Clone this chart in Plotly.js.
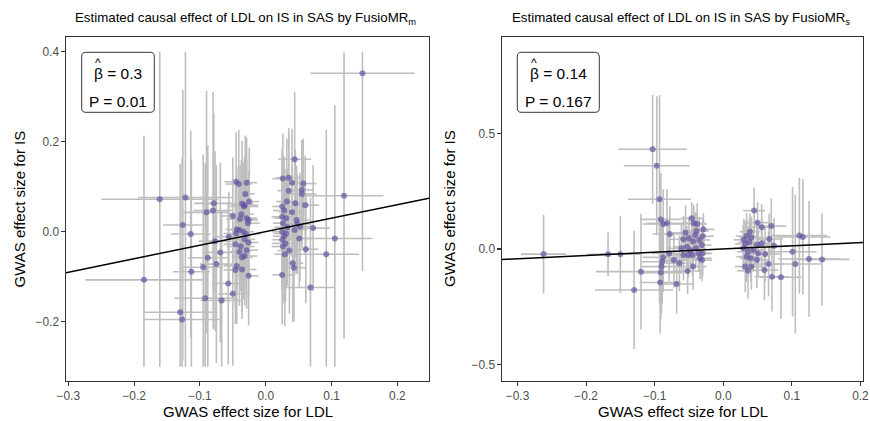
<!DOCTYPE html>
<html>
<head>
<meta charset="utf-8">
<script src="https://cdn.plot.ly/plotly-3.0.1.min.js"></script>
<style>html,body{margin:0;padding:0;background:#fff;}#chart{width:870px;height:421px;}</style>
</head>
<body>
<div id="chart"></div>
<script>
// ---------------- DATA ----------------
const panelTitles = ["Estimated causal effect of LDL on IS in SAS by FusioMR<sub>m</sub>",
                     "Estimated causal effect of LDL on IS in SAS by FusioMR<sub>s</sub>"];
const xTitle = "GWAS effect size for LDL";
const yTitle = "GWAS effect size for IS";
const betaValues = [0.3, 0.14];
const betaLabels = ["0.3", "0.14"];
const pLabels = ["0.01", "0.167"];

const leftX = [
0.147, -0.161, -0.122, 0.119, -0.185, -0.130, -0.127, -0.126, -0.114, -0.113,
-0.090, -0.080, -0.079, -0.077, -0.069, -0.088, -0.075, -0.095, -0.092, -0.067,
-0.057, -0.050, 0.092, 0.105, 0.068, 0.044,
-0.045, -0.041, -0.029, -0.031, -0.025, -0.032, -0.036, -0.033, -0.037, -0.029,
-0.026, -0.027, -0.039, -0.044, -0.040, -0.045, -0.056, -0.032, -0.030, -0.046,
-0.026, -0.038, -0.029, -0.032, -0.036, -0.044, -0.046, -0.036, -0.026, -0.040,
-0.050, -0.034,
0.026, 0.035, 0.040, 0.057, 0.035, 0.055, 0.055, 0.032, 0.045, 0.060,
0.025, 0.028, 0.040, 0.025, 0.031, 0.047, 0.026, 0.048, 0.052, 0.044,
0.072, 0.025, 0.031, 0.025, 0.030, 0.026, 0.036, 0.051, 0.061, 0.041,
0.043, 0.025, 0.028, 0.033, 0.029
];
const leftY = [
0.352, 0.072, 0.076, 0.080, -0.107, -0.179, -0.195, 0.015, -0.005, -0.089,
0.043, 0.047, 0.063, -0.021, -0.046, -0.058, -0.072, -0.079, -0.148, -0.153,
-0.115, -0.138, -0.050, -0.015, -0.124, 0.161,
0.111, 0.106, 0.109, 0.084, 0.067, 0.059, 0.062, 0.056, 0.039, 0.030,
0.026, 0.019, 0.028, 0.005, 0.004, -0.004, -0.011, -0.017, -0.005, -0.028,
-0.024, -0.033, -0.041, -0.054, -0.057, -0.076, -0.085, -0.084, -0.098, -0.045,
0.035, 0.000,
0.118, 0.120, 0.109, 0.107, 0.091, 0.093, 0.084, 0.067, 0.063, 0.059,
0.056, 0.047, 0.043, 0.033, 0.030, 0.026, 0.019, 0.017, 0.011, 0.004,
0.008, 0.000, -0.004, -0.018, -0.026, -0.033, -0.042, -0.015, -0.039, -0.070,
-0.080, -0.096, -0.010, 0.010, -0.050
];
const leftXErr = [
0.079, 0.089, 0.072, 0.060, 0.089, 0.056, 0.057, 0.030, 0.030, 0.028,
0.035, 0.030, 0.030, 0.025, 0.025, 0.030, 0.025, 0.030, 0.047, 0.032,
0.025, 0.022, 0.050, 0.057, 0.037, 0.025,
0.018, 0.020, 0.016, 0.014, 0.015, 0.020, 0.017, 0.022, 0.019, 0.016,
0.014, 0.018, 0.021, 0.017, 0.015, 0.019, 0.020, 0.016, 0.022, 0.018,
0.015, 0.021, 0.017, 0.019, 0.016, 0.020, 0.018, 0.022, 0.015, 0.017,
0.020, 0.016,
0.016, 0.019, 0.015, 0.020, 0.017, 0.018, 0.022, 0.016, 0.019, 0.021,
0.015, 0.017, 0.020, 0.016, 0.018, 0.019, 0.015, 0.021, 0.017, 0.018,
0.025, 0.016, 0.019, 0.015, 0.020, 0.017, 0.018, 0.022, 0.019, 0.016,
0.018, 0.015, 0.017, 0.020, 0.016
];
const leftYErr = [
0.44, 0.42, 0.40, 0.318, 0.32, 0.33, 0.36, 0.30, 0.23, 0.25,
0.27, 0.264, 0.20, 0.20, 0.20, 0.25, 0.22, 0.25, 0.30, 0.20,
0.18, 0.16, 0.276, 0.296, 0.20, 0.15,
0.11, 0.12, 0.10, 0.13, 0.12, 0.11, 0.14, 0.10, 0.12, 0.13,
0.11, 0.10, 0.12, 0.14, 0.11, 0.13, 0.10, 0.12, 0.11, 0.14,
0.12, 0.10, 0.13, 0.11, 0.12, 0.13, 0.12, 0.11, 0.11, 0.12,
0.13, 0.15,
0.10, 0.11, 0.12, 0.10, 0.13, 0.11, 0.12, 0.14, 0.12, 0.11,
0.13, 0.12, 0.10, 0.14, 0.11, 0.12, 0.13, 0.11, 0.12, 0.10,
0.14, 0.13, 0.12, 0.11, 0.13, 0.12, 0.14, 0.11, 0.12, 0.13,
0.12, 0.11, 0.15, 0.13, 0.16
];

const rightX = [
-0.262, -0.168, -0.150, -0.120, -0.130, -0.103, -0.097, -0.093, -0.091, -0.0875,
-0.082, -0.078, -0.091, -0.092, -0.090, -0.089, -0.0875, -0.068, -0.079, -0.072,
-0.064, -0.052, -0.044,
-0.046, -0.043, -0.038, -0.029, -0.039, -0.058, -0.050, -0.044, -0.035, -0.031,
-0.053, -0.061, -0.040, -0.051, -0.045, -0.036, -0.030, -0.031, -0.058, -0.048,
-0.034, -0.041, -0.055, -0.030,
0.045, 0.050, 0.056, 0.070, 0.039, 0.034, 0.041, 0.067, 0.032, 0.049,
0.056, 0.074, 0.029, 0.036, 0.044, 0.051, 0.061, 0.034, 0.040, 0.049,
0.032, 0.041, 0.036, 0.060, 0.066, 0.071, 0.084, 0.101, 0.105, 0.111,
0.116, 0.125, 0.144, 0.038, 0.030
];
const rightY = [
-0.022, -0.023, -0.023, -0.098, -0.177, 0.431, 0.360, 0.215, 0.128, 0.108,
0.111, 0.065, -0.102, -0.145, -0.076, -0.055, -0.036, -0.151, -0.019, -0.048,
-0.062, -0.095, -0.076,
0.133, 0.111, 0.108, 0.085, 0.078, 0.042, 0.046, 0.032, 0.039, 0.017,
0.010, 0.003, 0.003, -0.026, -0.026, -0.019, -0.019, -0.048, -0.026, -0.005,
-0.040, 0.060, 0.070, 0.055,
0.166, 0.114, 0.094, 0.099, 0.075, 0.056, 0.050, 0.043, 0.022, 0.017,
0.025, 0.014, 0.003, -0.012, -0.004, -0.019, -0.022, -0.033, -0.040, -0.048,
-0.076, -0.076, -0.094, -0.091, -0.065, -0.120, -0.122, -0.012, -0.065, 0.058,
0.052, -0.043, -0.045, 0.030, 0.040
];
const rightXErr = [
0.033, 0.030, 0.030, 0.066, 0.057, 0.050, 0.048, 0.046, 0.030, 0.030,
0.030, 0.025, 0.030, 0.030, 0.030, 0.030, 0.030, 0.025, 0.025, 0.020,
0.020, 0.020, 0.020,
0.015, 0.017, 0.014, 0.016, 0.018, 0.020, 0.015, 0.017, 0.016, 0.014,
0.019, 0.021, 0.015, 0.017, 0.016, 0.018, 0.014, 0.015, 0.020, 0.016,
0.017, 0.015, 0.019, 0.016,
0.016, 0.018, 0.017, 0.022, 0.015, 0.016, 0.018, 0.020, 0.015, 0.017,
0.018, 0.024, 0.014, 0.016, 0.017, 0.018, 0.021, 0.015, 0.016, 0.018,
0.015, 0.017, 0.016, 0.020, 0.022, 0.025, 0.030, 0.035, 0.038, 0.040,
0.040, 0.045, 0.040, 0.016, 0.015
];
const rightYErr = [
0.17, 0.094, 0.167, 0.25, 0.255, 0.235, 0.30, 0.45, 0.20, 0.15,
0.15, 0.12, 0.20, 0.22, 0.20, 0.18, 0.15, 0.13, 0.12, 0.12,
0.12, 0.10, 0.10,
0.07, 0.08, 0.09, 0.07, 0.08, 0.10, 0.09, 0.08, 0.10, 0.07,
0.09, 0.11, 0.08, 0.10, 0.09, 0.08, 0.10, 0.09, 0.11, 0.08,
0.09, 0.10, 0.12, 0.08,
0.10, 0.09, 0.10, 0.12, 0.08, 0.10, 0.09, 0.11, 0.10, 0.09,
0.11, 0.12, 0.10, 0.11, 0.09, 0.10, 0.12, 0.11, 0.10, 0.12,
0.11, 0.10, 0.12, 0.13, 0.14, 0.15, 0.18, 0.28, 0.30, 0.25,
0.25, 0.25, 0.20, 0.10, 0.09
];

// ---------------- LAYOUT GEOMETRY ----------------
const W = 870, H = 421;
const M = {l: 66, r: 7, t: 37, b: 40};
const PW = W - M.l - M.r, PH = H - M.t - M.b;
const fx = px => (px - M.l) / PW;
const fy = py => (H - M.b - py) / PH;

const FONT = "Liberation Sans, Arial, Helvetica, sans-serif";
const panels = [
  {x: leftX, y: leftY, ex: leftXErr, ey: leftYErr, xr: [-0.3035, 0.2481], yr: [-0.3318, 0.4327],
   yclamp: [-0.3, 0.4], dom: [fx(66), fx(429)], ydtick: 0.2, px0: 66, px1: 429, ytitleX: 18.5,
   box: [81.7, 52.3, 154.3, 112.3], hatX: 97.5},
  {x: rightX, y: rightY, ex: rightXErr, ey: rightYErr, xr: [-0.3226, 0.2037], yr: [-0.5707, 0.9166],
   yclamp: [-10, 10], dom: [fx(502), fx(863)], ydtick: 0.5, px0: 502, px1: 863, ytitleX: 449,
   box: [517.3, 52.3, 599.3, 112.3], hatX: 534}
];

const traces = [], shapes = [], annotations = [];
const layout = {
  width: W, height: H, margin: M, showlegend: false,
  paper_bgcolor: "#fff", plot_bgcolor: "#fff",
  font: {family: FONT}
};

panels.forEach((p, i) => {
  const xa = i === 0 ? "x" : "x2", ya = i === 0 ? "y" : "y2";
  const yPlus = p.y.map((v, k) => Math.min(v + p.ey[k], p.yclamp[1]) - v);
  const yMinus = p.y.map((v, k) => v - Math.max(v - p.ey[k], p.yclamp[0]));
  traces.push({
    type: "scatter", mode: "markers", x: p.x, y: p.y, xaxis: xa, yaxis: ya,
    marker: {size: 6, color: "rgba(95,75,160,0.65)", line: {width: 0}},
    error_x: {type: "data", array: p.ex, color: "#bebebe", thickness: 1.6, width: 0},
    error_y: {type: "data", symmetric: false, array: yPlus, arrayminus: yMinus,
              color: "#bebebe", thickness: 1.6, width: 0},
    hoverinfo: "skip"
  });
  traces.push({
    type: "scatter", mode: "lines", x: p.xr, y: p.xr.map(v => betaValues[i] * v),
    xaxis: xa, yaxis: ya, line: {color: "#000", width: 1.5}, hoverinfo: "skip"
  });
  const axCommon = {
    showline: true, mirror: true, linecolor: "#333", linewidth: 1.1,
    ticks: "outside", ticklen: 3.5, tickwidth: 1.1, tickcolor: "#333",
    tickfont: {size: 11.9, color: "#4d4d4d", family: FONT},
    showgrid: false, zeroline: false, tickformat: ".1f", tick0: 0
  };
  layout[i === 0 ? "xaxis" : "xaxis2"] = Object.assign({}, axCommon, {
    domain: p.dom, range: p.xr, dtick: 0.1, anchor: ya
  });
  layout[i === 0 ? "yaxis" : "yaxis2"] = Object.assign({}, axCommon, {
    domain: [0, 1], range: p.yr, dtick: p.ydtick, anchor: xa
  });
  const cx = (p.px0 + p.px1) / 2;
  // panel title
  annotations.push({text: panelTitles[i], xref: "paper", yref: "paper", x: fx(cx - 2), y: fy(19),
    xanchor: "center", yanchor: "middle", showarrow: false, font: {size: 13.3, color: "#000", family: FONT}});
  // axis titles
  annotations.push({text: xTitle, xref: "paper", yref: "paper", x: fx(cx), y: fy(411.5),
    xanchor: "center", yanchor: "middle", showarrow: false, font: {size: 15, color: "#000", family: FONT}});
  annotations.push({text: yTitle, xref: "paper", yref: "paper", x: fx(p.ytitleX), y: fy(209),
    xanchor: "center", yanchor: "middle", textangle: -90, showarrow: false,
    font: {size: 15, color: "#000", family: FONT}});
  // label box
  const [x0, y0, x1, y1] = p.box, r = 4;
  const pts = (a, b) => fx(a).toFixed(5) + "," + fy(b).toFixed(5);
  const path = "M" + pts(x0 + r, y0) + " L" + pts(x1 - r, y0) + " Q" + pts(x1, y0) + " " + pts(x1, y0 + r) +
    " L" + pts(x1, y1 - r) + " Q" + pts(x1, y1) + " " + pts(x1 - r, y1) +
    " L" + pts(x0 + r, y1) + " Q" + pts(x0, y1) + " " + pts(x0, y1 - r) +
    " L" + pts(x0, y0 + r) + " Q" + pts(x0, y0) + " " + pts(x0 + r, y0) + " Z";
  shapes.push({type: "path", xref: "paper", yref: "paper", path: path,
    line: {color: "#000", width: 0.8}, fillcolor: "#fff", layer: "above"});
  const bcx = (x0 + x1) / 2;
  annotations.push({text: "β = " + betaLabels[i], xref: "paper", yref: "paper", x: fx(bcx), y: fy(74),
    xanchor: "center", yanchor: "middle", showarrow: false, font: {size: 15.5, color: "#000", family: FONT}});
  annotations.push({text: "^", xref: "paper", yref: "paper", x: fx(p.hatX), y: fy(62.5),
    xanchor: "center", yanchor: "middle", showarrow: false, font: {size: 12, color: "#000", family: FONT}});
  annotations.push({text: "P = " + pLabels[i], xref: "paper", yref: "paper", x: fx(bcx), y: fy(101.5),
    xanchor: "center", yanchor: "middle", showarrow: false, font: {size: 15.5, color: "#000", family: FONT}});
});

layout.shapes = shapes;
layout.annotations = annotations;
Plotly.newPlot("chart", traces, layout, {staticPlot: true, displayModeBar: false});
</script>
</body>
</html>
